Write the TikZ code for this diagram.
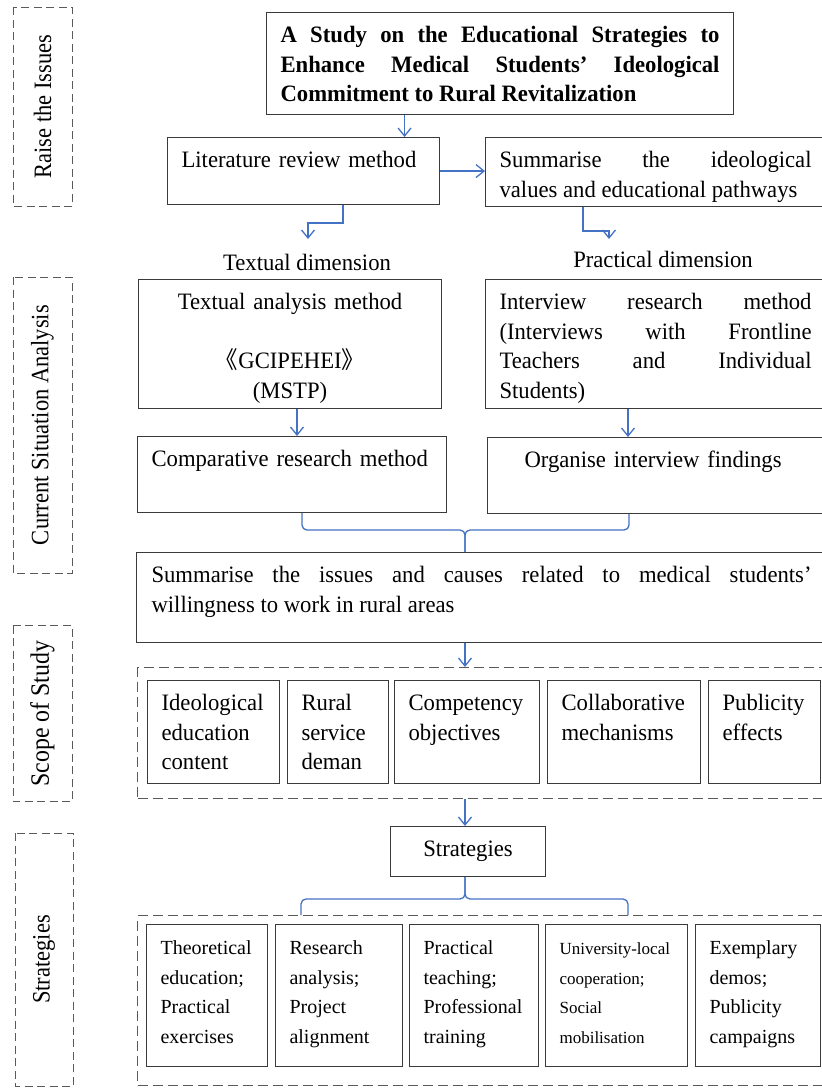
\documentclass[tikz,border=0pt]{standalone}
\usepackage{fontspec}
\setmainfont{Liberation Serif}[FakeStretch=0.965]
\newfontfamily\plainfont{Liberation Serif}
\newfontfamily\sidefont{Liberation Serif}[FakeStretch=0.9]
\newfontfamily\cjk{Noto Sans CJK SC}
\usetikzlibrary{arrows.meta}
\definecolor{lineblue}{HTML}{4472C4}
\definecolor{boxgray}{HTML}{3A3A3A}
\definecolor{dashgray}{HTML}{5A5A5A}
\hyphenpenalty=10000
\tolerance=10000
\newcommand{\mainsz}{\fontsize{23.5}{29.5}\selectfont}
\newcommand{\smallsz}{\plainfont\fontsize{20}{29.7}\selectfont}
\newcommand{\tinysz}{\plainfont\fontsize{17}{29.7}\selectfont}
\newcommand{\sidesz}{\sidefont\fontsize{25}{30}\selectfont}

\begin{document}
\begin{tikzpicture}[x=1pt, y=-1pt,
  box/.style={draw=boxgray, line width=1.1pt, anchor=north west, inner xsep=14pt, inner ysep=8pt, text height=22pt, font=\mainsz},
  outer/.style={draw=dashgray, line width=1pt, dash pattern=on 10pt off 5pt, anchor=north west},
  sidebox/.style={draw=dashgray, line width=1pt, dash pattern=on 8pt off 4.5pt, rotate=90, inner sep=0pt, font=\sidesz},
  label/.style={font=\mainsz, inner sep=0pt, anchor=base},
  arr/.style={draw=lineblue, line width=1.3pt, -{Straight Barb[length=8pt,width=13pt]}},
  bl/.style={draw=lineblue, line width=1.3pt, rounded corners=5pt}]
\useasboundingbox (0,0) rectangle (822,1088);
\clip (0,0) rectangle (822,1088);

% stage labels on the left
\node[sidebox, minimum width=199pt, minimum height=59pt] (raise) at (42.5,106.5) {Raise the Issues};
\node[sidebox, minimum width=296pt, minimum height=59pt] (current) at (42.5,425) {Current Situation Analysis\hspace{30pt}};
\node[sidebox, minimum width=176pt, minimum height=59pt, font=\sidefont\fontsize{26.5}{30}\selectfont] (scopelab) at (42.5,713.5) {Scope of Study\hspace{6pt}};
\node[sidebox, minimum width=253pt, minimum height=58pt] (stratlab) at (44,959.5) {Strategies\hspace{-12pt}};

% raise the issues
\node[box, font=\mainsz\bfseries, text width=439pt, text depth=64pt, align=justify] (title) at (266,12)
  {A Study on the Educational Strategies to\linebreak Enhance Medical Students’ Ideological\linebreak Commitment to Rural Revitalization};
\node[box, text width=244pt, text depth=29pt, align=left] (lit) at (167,137) {Literature review method};
\node[box, text width=312pt, text depth=31pt, align=justify] (summ) at (485,137)
  {Summarise the ideological\linebreak values and educational pathways};
\node[label] (tdim) at (307,270) {Textual dimension};
\node[label] (pdim) at (663,267) {Practical dimension};
\coordinate (tdim-in) at (308,239);
\coordinate (pdim-in) at (609,239);

% current situation
\node[box, text width=275pt, text depth=91pt, align=center] (txt) at (138,279)
  {Textual analysis method\\[29.5pt]{\cjk 《}GCIPEHEI{\cjk 》}\\(MSTP)};
\node[box, text width=312pt, text depth=91pt, align=justify] (intv) at (485,279)
  {Interview research method\linebreak (Interviews with Frontline\linebreak Teachers and Individual\linebreak Students)};
\node[box, text width=281pt, text depth=38pt, align=left] (cmp) at (137,436) {Comparative research method};
\node[box, text width=320pt, inner xsep=37pt, text depth=38pt, align=left] (org) at (487,437) {Organise interview findings};
\node[box, text width=660pt, inner xsep=15pt, text depth=52pt, align=justify] (sum) at (136,552)
  {Summarise the issues and causes related to medical students’\linebreak willingness to work in rural areas};

% scope of study
\node[outer, minimum width=700pt, minimum height=131pt] (scope) at (137,667) {};
\node[box, text width=104pt, text depth=65pt, align=left] (s1) at (147,680) {Ideological\\education\\content};
\node[box, text width=73pt, text depth=65pt, align=left] (s2) at (287,680) {Rural\\service\\deman};
\node[box, text width=117pt, text depth=65pt, align=left] (s3) at (394,680) {Competency\\objectives};
\node[box, text width=125pt, text depth=65pt, align=left] (s4) at (547,680) {Collaborative\\mechanisms};
\node[box, text width=84pt, text depth=65pt, align=left] (s5) at (708,680) {Publicity\\effects};

% strategies
\node[box, text width=127pt, text depth=12pt, align=center] (strat) at (390,826) {Strategies};
\node[outer, minimum width=700pt, minimum height=170pt] (stg) at (137,915) {};
\node[box, font=\smallsz, text width=93pt, text depth=104pt, align=left] (st1) at (146,924) {Theoretical\\education;\\Practical\\exercises};
\node[box, font=\smallsz, text width=99pt, text depth=104pt, align=left] (st2) at (275,924) {Research\\analysis;\\Project\\alignment};
\node[box, font=\smallsz, text width=101pt, text depth=104pt, align=left] (st3) at (409,924) {Practical\\teaching;\\Professional\\training};
\node[box, font=\tinysz, text width=114pt, text depth=104pt, align=left] (st4) at (545,924) {University-local\\cooperation;\\Social\\mobilisation};
\node[box, font=\smallsz, text width=97pt, text depth=104pt, align=left] (st5) at (695,924) {Exemplary\\demos;\\Publicity\\campaigns};

% connectors
\draw[arr] ([xshift=-95.5pt]title.south) -- ([xshift=-95.5pt]title.south |- lit.north);
\draw[arr] (lit.east) -- (lit.east -| summ.west);
\draw[arr] (lit.south -| 343,0) -- ++(0,18) -| (tdim-in);
\draw[arr] (summ.south -| 583,0) -- ++(0,24) -| (pdim-in);
\draw[arr] (txt.south -| 297,0) -- (cmp.north -| 297,0);
\draw[arr] (intv.south -| 628,0) -- (org.north -| 628,0);
\draw[bl] (cmp.south -| 302,0) |- (465,530) -- (sum.north -| 465,0);
\draw[bl] (org.south -| 629,0) |- (465,530) -- (sum.north -| 465,0);
\draw[arr] (sum.south -| 465,0) -- (scope.north -| 465,0);
\draw[arr] (scope.south -| 465,0) -- (strat.north -| 465,0);
\draw[bl] (strat.south -| 465,0) |- (301,899) -- (stg.north -| 301,0);
\draw[bl] (strat.south -| 465,0) |- (628,899) -- (stg.north -| 628,0);
\end{tikzpicture}
\end{document}
